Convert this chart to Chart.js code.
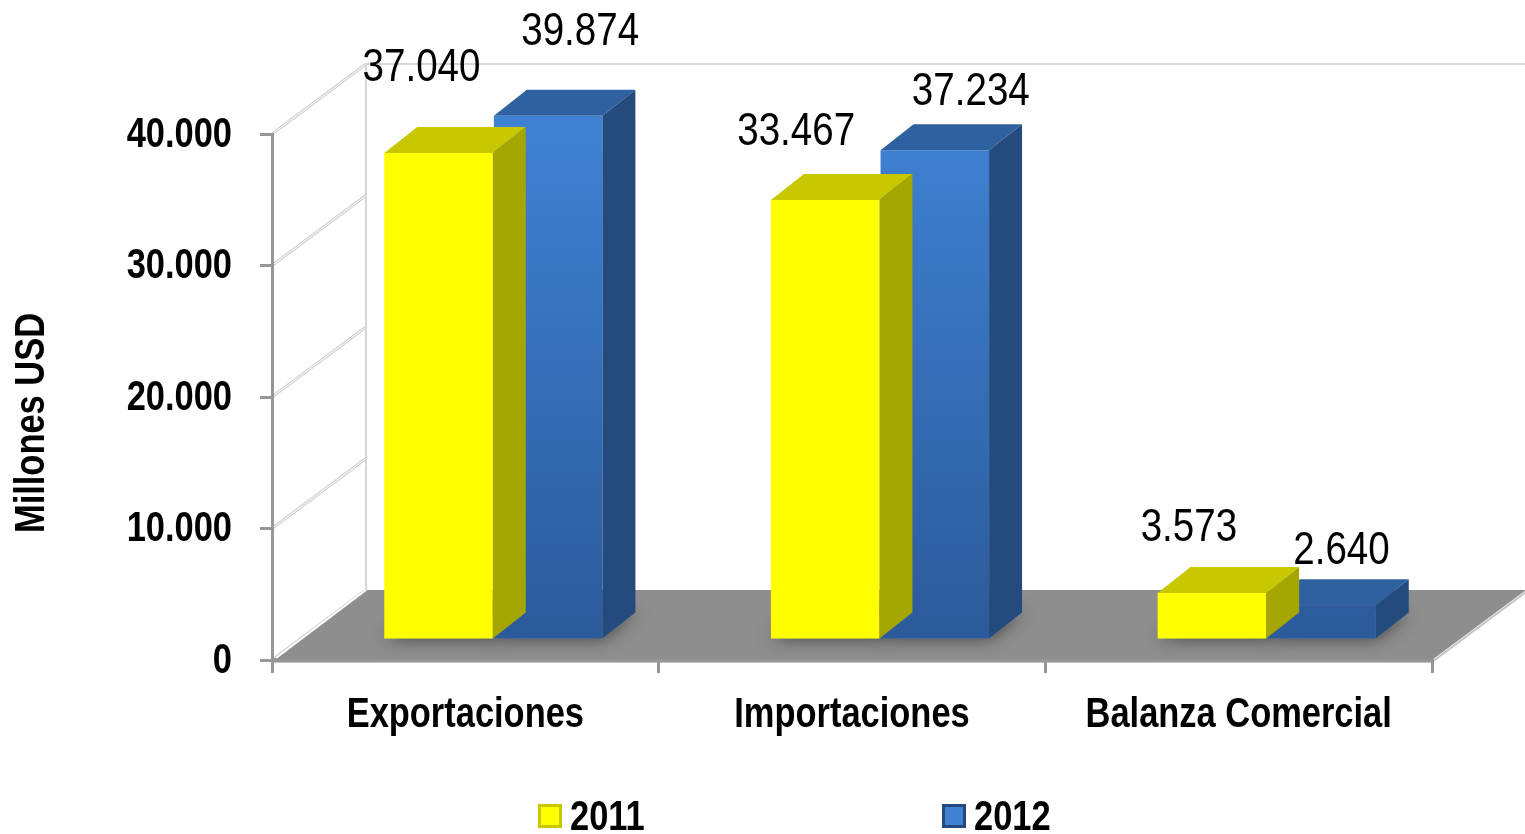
<!DOCTYPE html>
<html>
<head>
<meta charset="utf-8">
<script src="https://cdn.jsdelivr.net/npm/chart.js@4.4.0/dist/chart.umd.min.js"></script>
<style>
  html, body { margin: 0; padding: 0; background: #fff; }
  #wrap { width: 1525px; height: 834px; }
</style>
</head>
<body>
<div id="wrap"><canvas id="chart" width="1525" height="834"></canvas></div>
<script>
const categories = ['Exportaciones', 'Importaciones', 'Balanza Comercial'];
const seriesNames = ['2011', '2012'];
const values2011 = [37040, 33467, 3573];
const values2012 = [39874, 37234, 2640];
const yTicks = [0, 10000, 20000, 30000, 40000];

// Arial metrics squeezed horizontally to look like Arial Narrow
const FONT = "'Liberation Sans', Arial, sans-serif";
const NARROW = 0.82;

// 3D look: depth of the floor / walls and of each bar
const WALL = { dx: 94, dy: -70 };
const BAR_SHIFT = { dx: 28, dy: -20 };
const BAR_DEPTH = { dx: 33, dy: -26 };

// where Excel put the value labels, relative to the top of each bar
const labelNudge = [
    [[-17, -72], [-29, -55], [-23, -52]],
    [[32, -71], [36, -45], [20, -41]]
];

const faceColors = [
    { top: '#c8c800', side: '#a6a600' },
    { top: '#2f609f', side: '#244b7d' }
];

function fmt(v) {
    return String(v).replace(/\B(?=(\d{3})+(?!\d))/g, '.');
}

function poly(ctx, pts, fill) {
    ctx.beginPath();
    ctx.moveTo(pts[0][0], pts[0][1]);
    for (let i = 1; i < pts.length; i++) ctx.lineTo(pts[i][0], pts[i][1]);
    ctx.closePath();
    ctx.fillStyle = fill;
    ctx.fill();
}

function narrowText(ctx, text, x, y, font, align, baseline, rot) {
    ctx.save();
    ctx.translate(x, y);
    if (rot) ctx.rotate(rot);
    ctx.scale(NARROW, 1);
    ctx.font = font;
    ctx.textAlign = align;
    ctx.textBaseline = baseline;
    ctx.fillStyle = '#000';
    ctx.fillText(text, 0, 0);
    ctx.restore();
}

const chart3d = {
    id: 'chart3d',
    beforeDraw(chart) {
        const { ctx, chartArea: a, scales: { y } } = chart;
        const y0 = y.getPixelForValue(0);
        const yMax = y.getPixelForValue(40000);
        ctx.save();
        // side wall gridlines
        yTicks.forEach(t => {
            const py = y.getPixelForValue(t);
            ctx.beginPath();
            ctx.moveTo(a.left, py);
            ctx.lineTo(a.left + WALL.dx, py + WALL.dy);
            ctx.strokeStyle = '#d0d0d0';
            ctx.lineWidth = 3;
            ctx.stroke();
            ctx.strokeStyle = '#ffffff';
            ctx.lineWidth = 1;
            ctx.stroke();
        });
        ctx.strokeStyle = '#d6d6d6';
        ctx.lineWidth = 2;
        ctx.beginPath();
        ctx.moveTo(a.left + WALL.dx, yMax + WALL.dy);
        ctx.lineTo(a.left + WALL.dx, y0 + WALL.dy);
        ctx.moveTo(a.left + WALL.dx, yMax + WALL.dy);
        ctx.lineTo(a.right + WALL.dx, yMax + WALL.dy);
        ctx.stroke();
        // floor
        poly(ctx, [
            [a.left, y0], [a.right, y0],
            [a.right + WALL.dx, y0 + WALL.dy], [a.left + WALL.dx, y0 + WALL.dy]
        ], '#8e8e8e');
        ctx.beginPath();
        ctx.moveTo(a.left + WALL.dx, y0 + WALL.dy);
        ctx.lineTo(a.left + 4, y0 - 2);
        ctx.strokeStyle = '#ffffff';
        ctx.lineWidth = 2;
        ctx.stroke();
        ctx.beginPath();
        ctx.moveTo(a.left, y0 + 2);
        ctx.lineTo(a.right, y0 + 2);
        ctx.lineTo(a.right + WALL.dx, y0 + WALL.dy + 2);
        ctx.strokeStyle = '#c4c4c4';
        ctx.lineWidth = 2;
        ctx.stroke();
        ctx.restore();
    },
    beforeDatasetsDraw(chart) {
        // soft shadow under the bars
        const ctx = chart.ctx;
        ctx.save();
        ctx.translate(BAR_SHIFT.dx, BAR_SHIFT.dy);
        ctx.shadowColor = 'rgba(0,0,0,0.55)';
        ctx.shadowBlur = 18;
        chart.data.datasets.forEach((ds, i) => {
            chart.getDatasetMeta(i).data.forEach(bar => {
                const p = bar.getProps(['x', 'base', 'width'], true);
                const l = p.x - p.width / 2, r = p.x + p.width / 2;
                poly(ctx, [[l, p.base], [r, p.base], [r + BAR_DEPTH.dx, p.base + BAR_DEPTH.dy], [l + BAR_DEPTH.dx, p.base + BAR_DEPTH.dy]], '#8e8e8e');
            });
        });
        ctx.restore();
    },
    beforeDatasetDraw(chart) {
        chart.ctx.save();
        chart.ctx.translate(BAR_SHIFT.dx, BAR_SHIFT.dy);
    },
    afterDatasetDraw(chart, args) {
        const ctx = chart.ctx;
        const c = faceColors[args.index];
        args.meta.data.forEach(bar => {
            const p = bar.getProps(['x', 'y', 'base', 'width'], true);
            const l = p.x - p.width / 2, r = p.x + p.width / 2;
            const d = BAR_DEPTH;
            poly(ctx, [[l, p.y], [l + d.dx, p.y + d.dy], [r + d.dx, p.y + d.dy], [r, p.y]], c.top);
            poly(ctx, [[r, p.y], [r + d.dx, p.y + d.dy], [r + d.dx, p.base + d.dy], [r, p.base]], c.side);
        });
        ctx.restore();
    },
    afterDatasetsDraw(chart) {
        const ctx = chart.ctx;
        chart.data.datasets.forEach((ds, i) => {
            chart.getDatasetMeta(i).data.forEach((bar, j) => {
                const p = bar.getProps(['x', 'y'], true);
                const n = labelNudge[i][j];
                narrowText(ctx, fmt(ds.data[j]), p.x + BAR_SHIFT.dx + n[0], p.y + BAR_SHIFT.dy + n[1],
                    '47px ' + FONT, 'center', 'alphabetic');
            });
        });
    },
    afterDraw(chart) {
        const { ctx, scales: { x, y } } = chart;
        const bold = 'bold 42px ' + FONT;
        // axis labels
        yTicks.forEach(t => {
            narrowText(ctx, fmt(t), 232, y.getPixelForValue(t) + 1, bold, 'right', 'middle');
        });
        categories.forEach((c, i) => {
            narrowText(ctx, c, x.getPixelForValue(i), 727, bold, 'center', 'alphabetic');
        });
        narrowText(ctx, 'Millones USD', 32, 423, bold, 'center', 'middle', -Math.PI / 2);
        // legend
        const fronts = [['#ffff00', '#c8c800'], ['#3f82d4', '#24497a']];
        chart.data.datasets.forEach((ds, i) => {
            const lx = 538 + i * 404, yc = 816;
            ctx.fillStyle = fronts[i][1];
            ctx.fillRect(lx, yc - 12, 24, 24);
            ctx.fillStyle = fronts[i][0];
            ctx.fillRect(lx + 3, yc - 9, 18, 18);
            narrowText(ctx, ds.label, lx + 32, 830, bold, 'left', 'alphabetic');
        });
    }
};

const ctx = document.getElementById('chart').getContext('2d');

function blueFront(context) {
    const area = context.chart.chartArea;
    if (!area) return '#3b7dd0';
    const g = context.chart.ctx.createLinearGradient(0, area.top, 0, area.bottom);
    g.addColorStop(0, '#3f82d4');
    g.addColorStop(1, '#2b5a9a');
    return g;
}

new Chart(ctx, {
    type: 'bar',
    data: {
        labels: categories,
        datasets: [
            { label: seriesNames[0], data: values2011, backgroundColor: '#ffff00', clip: false },
            { label: seriesNames[1], data: values2012, backgroundColor: blueFront, clip: false }
        ]
    },
    options: {
        responsive: false,
        animation: false,
        categoryPercentage: 0.567,
        barPercentage: 0.99,
        layout: { padding: { left: 0, top: 134, right: 93, bottom: 0 } },
        plugins: {
            legend: { display: false },
            tooltip: { enabled: false }
        },
        scales: {
            x: {
                afterFit: s => { s.height = 174; },
                grid: { offset: true, drawOnChartArea: false, tickLength: 13, color: '#969696', lineWidth: 3 },
                border: { color: '#969696', width: 3 },
                ticks: { display: false, autoSkip: false }
            },
            y: {
                min: 0,
                max: 40000,
                afterFit: s => { s.width = 272; },
                afterBuildTicks: s => { s.ticks = yTicks.map(v => ({ value: v })); },
                grid: { drawOnChartArea: false, tickLength: 12, color: '#969696', lineWidth: 3 },
                border: { color: '#969696', width: 3 },
                ticks: { display: false }
            }
        }
    },
    plugins: [chart3d]
});
</script>
</body>
</html>
